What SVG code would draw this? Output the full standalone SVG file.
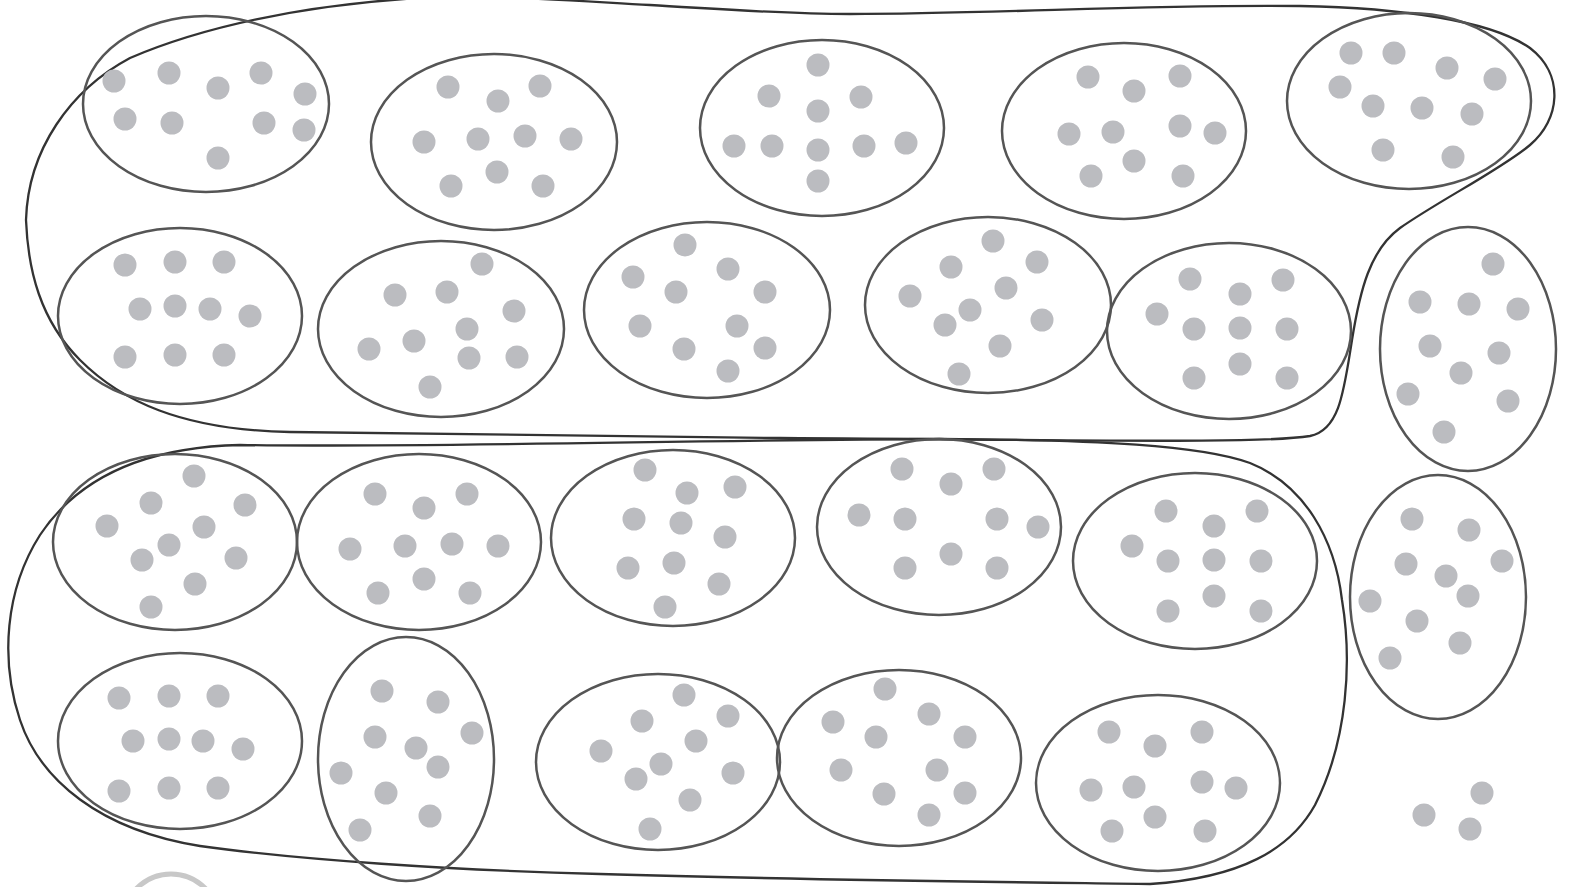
<svg xmlns="http://www.w3.org/2000/svg" width="1571" height="887" viewBox="0 0 1571 887">
<style>
.e{fill:none;stroke:#555;stroke-width:2.5}
.b{fill:none;stroke:#333;stroke-width:2.3}
.d{fill:#bbbcc0}
</style>
<defs><circle id="dt" r="11.5" class="d"/></defs>
<rect width="1571" height="887" fill="#fff"/>
<g id="connectors">
<path class="b" d="M26,220 C28,150 70,90 130,58 C200,28 300,5 420,-2 C500,-5 560,0 650,5 C720,9 780,14 850,14 C1000,14 1150,4 1300,6 C1400,8 1490,20 1530,48 C1565,75 1560,120 1530,145 C1500,170 1440,200 1400,228 C1370,250 1360,290 1352,340 C1344,390 1340,430 1310,436 C1260,444 1100,440 780,438 C500,436 350,434 290,432 C180,430 120,400 80,360 C40,320 28,270 26,220 Z"/>
<path class="b" d="M240,445 C400,448 700,440 940,439 C1100,440 1200,445 1250,463 C1305,485 1335,540 1342,600 C1352,660 1348,740 1315,805 C1290,850 1240,878 1150,884 C1000,882 800,880 600,874 C450,870 300,860 200,846 C100,830 40,780 20,720 C0,660 5,590 40,535 C80,475 150,447 240,445 Z"/>
</g>
<g id="n1"><ellipse class="e" cx="206" cy="104" rx="123" ry="88"/>
<use href="#dt" x="114" y="81"/><use href="#dt" x="169" y="73"/><use href="#dt" x="218" y="88"/><use href="#dt" x="261" y="73"/><use href="#dt" x="305" y="94"/><use href="#dt" x="125" y="119"/><use href="#dt" x="172" y="123"/><use href="#dt" x="264" y="123"/><use href="#dt" x="304" y="130"/><use href="#dt" x="218" y="158"/></g>
<g id="n2"><ellipse class="e" cx="494" cy="142" rx="123" ry="88"/>
<use href="#dt" x="448" y="87"/><use href="#dt" x="498" y="101"/><use href="#dt" x="540" y="86"/><use href="#dt" x="424" y="142"/><use href="#dt" x="478" y="139"/><use href="#dt" x="525" y="136"/><use href="#dt" x="571" y="139"/><use href="#dt" x="451" y="186"/><use href="#dt" x="497" y="172"/><use href="#dt" x="543" y="186"/></g>
<g id="n3"><ellipse class="e" cx="822" cy="128" rx="122" ry="88"/>
<use href="#dt" x="818" y="65"/><use href="#dt" x="769" y="96"/><use href="#dt" x="861" y="97"/><use href="#dt" x="818" y="111"/><use href="#dt" x="734" y="146"/><use href="#dt" x="772" y="146"/><use href="#dt" x="818" y="150"/><use href="#dt" x="864" y="146"/><use href="#dt" x="906" y="143"/><use href="#dt" x="818" y="181"/></g>
<g id="n4"><ellipse class="e" cx="1124" cy="131" rx="122" ry="88"/>
<use href="#dt" x="1088" y="77"/><use href="#dt" x="1134" y="91"/><use href="#dt" x="1180" y="76"/><use href="#dt" x="1069" y="134"/><use href="#dt" x="1113" y="132"/><use href="#dt" x="1180" y="126"/><use href="#dt" x="1215" y="133"/><use href="#dt" x="1091" y="176"/><use href="#dt" x="1134" y="161"/><use href="#dt" x="1183" y="176"/></g>
<g id="n5"><ellipse class="e" cx="1409" cy="101" rx="122" ry="88"/>
<use href="#dt" x="1351" y="53"/><use href="#dt" x="1394" y="53"/><use href="#dt" x="1447" y="68"/><use href="#dt" x="1495" y="79"/><use href="#dt" x="1340" y="87"/><use href="#dt" x="1373" y="106"/><use href="#dt" x="1422" y="108"/><use href="#dt" x="1472" y="114"/><use href="#dt" x="1383" y="150"/><use href="#dt" x="1453" y="157"/></g>
<g id="n6"><ellipse class="e" cx="180" cy="316" rx="122" ry="88"/>
<use href="#dt" x="125" y="265"/><use href="#dt" x="175" y="262"/><use href="#dt" x="224" y="262"/><use href="#dt" x="140" y="309"/><use href="#dt" x="175" y="306"/><use href="#dt" x="210" y="309"/><use href="#dt" x="250" y="316"/><use href="#dt" x="125" y="357"/><use href="#dt" x="175" y="355"/><use href="#dt" x="224" y="355"/></g>
<g id="n7"><ellipse class="e" cx="441" cy="329" rx="123" ry="88"/>
<use href="#dt" x="482" y="264"/><use href="#dt" x="395" y="295"/><use href="#dt" x="447" y="292"/><use href="#dt" x="514" y="311"/><use href="#dt" x="467" y="329"/><use href="#dt" x="414" y="341"/><use href="#dt" x="369" y="349"/><use href="#dt" x="469" y="358"/><use href="#dt" x="517" y="357"/><use href="#dt" x="430" y="387"/></g>
<g id="n8"><ellipse class="e" cx="707" cy="310" rx="123" ry="88"/>
<use href="#dt" x="685" y="245"/><use href="#dt" x="633" y="277"/><use href="#dt" x="728" y="269"/><use href="#dt" x="676" y="292"/><use href="#dt" x="765" y="292"/><use href="#dt" x="640" y="326"/><use href="#dt" x="737" y="326"/><use href="#dt" x="684" y="349"/><use href="#dt" x="765" y="348"/><use href="#dt" x="728" y="371"/></g>
<g id="n9"><ellipse class="e" cx="988" cy="305" rx="123" ry="88"/>
<use href="#dt" x="993" y="241"/><use href="#dt" x="951" y="267"/><use href="#dt" x="1037" y="262"/><use href="#dt" x="910" y="296"/><use href="#dt" x="1006" y="288"/><use href="#dt" x="970" y="310"/><use href="#dt" x="945" y="325"/><use href="#dt" x="1042" y="320"/><use href="#dt" x="1000" y="346"/><use href="#dt" x="959" y="374"/></g>
<g id="n10"><ellipse class="e" cx="1229" cy="331" rx="122" ry="88"/>
<use href="#dt" x="1190" y="279"/><use href="#dt" x="1283" y="280"/><use href="#dt" x="1240" y="294"/><use href="#dt" x="1157" y="314"/><use href="#dt" x="1194" y="329"/><use href="#dt" x="1240" y="328"/><use href="#dt" x="1287" y="329"/><use href="#dt" x="1194" y="378"/><use href="#dt" x="1240" y="364"/><use href="#dt" x="1287" y="378"/></g>
<g id="n11"><ellipse class="e" cx="1468" cy="349" rx="88" ry="122"/>
<use href="#dt" x="1493" y="264"/><use href="#dt" x="1420" y="302"/><use href="#dt" x="1469" y="304"/><use href="#dt" x="1518" y="309"/><use href="#dt" x="1430" y="346"/><use href="#dt" x="1499" y="353"/><use href="#dt" x="1461" y="373"/><use href="#dt" x="1408" y="394"/><use href="#dt" x="1508" y="401"/><use href="#dt" x="1444" y="432"/></g>
<g id="n12"><ellipse class="e" cx="175" cy="542" rx="122" ry="88"/>
<use href="#dt" x="194" y="476"/><use href="#dt" x="151" y="503"/><use href="#dt" x="245" y="505"/><use href="#dt" x="107" y="526"/><use href="#dt" x="204" y="527"/><use href="#dt" x="169" y="545"/><use href="#dt" x="142" y="560"/><use href="#dt" x="236" y="558"/><use href="#dt" x="195" y="584"/><use href="#dt" x="151" y="607"/></g>
<g id="n13"><ellipse class="e" cx="419" cy="542" rx="122" ry="88"/>
<use href="#dt" x="375" y="494"/><use href="#dt" x="424" y="508"/><use href="#dt" x="467" y="494"/><use href="#dt" x="350" y="549"/><use href="#dt" x="405" y="546"/><use href="#dt" x="452" y="544"/><use href="#dt" x="498" y="546"/><use href="#dt" x="378" y="593"/><use href="#dt" x="424" y="579"/><use href="#dt" x="470" y="593"/></g>
<g id="n14"><ellipse class="e" cx="673" cy="538" rx="122" ry="88"/>
<use href="#dt" x="645" y="470"/><use href="#dt" x="687" y="493"/><use href="#dt" x="735" y="487"/><use href="#dt" x="634" y="519"/><use href="#dt" x="681" y="523"/><use href="#dt" x="725" y="537"/><use href="#dt" x="628" y="568"/><use href="#dt" x="674" y="563"/><use href="#dt" x="719" y="584"/><use href="#dt" x="665" y="607"/></g>
<g id="n15"><ellipse class="e" cx="939" cy="527" rx="122" ry="88"/>
<use href="#dt" x="902" y="469"/><use href="#dt" x="951" y="484"/><use href="#dt" x="994" y="469"/><use href="#dt" x="859" y="515"/><use href="#dt" x="905" y="519"/><use href="#dt" x="997" y="519"/><use href="#dt" x="1038" y="527"/><use href="#dt" x="905" y="568"/><use href="#dt" x="951" y="554"/><use href="#dt" x="997" y="568"/></g>
<g id="n16"><ellipse class="e" cx="1195" cy="561" rx="122" ry="88"/>
<use href="#dt" x="1166" y="511"/><use href="#dt" x="1214" y="526"/><use href="#dt" x="1257" y="511"/><use href="#dt" x="1132" y="546"/><use href="#dt" x="1168" y="561"/><use href="#dt" x="1214" y="560"/><use href="#dt" x="1261" y="561"/><use href="#dt" x="1168" y="611"/><use href="#dt" x="1214" y="596"/><use href="#dt" x="1261" y="611"/></g>
<g id="n17"><ellipse class="e" cx="1438" cy="597" rx="88" ry="122"/>
<use href="#dt" x="1412" y="519"/><use href="#dt" x="1469" y="530"/><use href="#dt" x="1406" y="564"/><use href="#dt" x="1446" y="576"/><use href="#dt" x="1502" y="561"/><use href="#dt" x="1468" y="596"/><use href="#dt" x="1370" y="601"/><use href="#dt" x="1417" y="621"/><use href="#dt" x="1460" y="643"/><use href="#dt" x="1390" y="658"/></g>
<g id="n18"><ellipse class="e" cx="180" cy="741" rx="122" ry="88"/>
<use href="#dt" x="119" y="698"/><use href="#dt" x="169" y="696"/><use href="#dt" x="218" y="696"/><use href="#dt" x="133" y="741"/><use href="#dt" x="169" y="739"/><use href="#dt" x="203" y="741"/><use href="#dt" x="243" y="749"/><use href="#dt" x="119" y="791"/><use href="#dt" x="169" y="788"/><use href="#dt" x="218" y="788"/></g>
<g id="n19"><ellipse class="e" cx="406" cy="759" rx="88" ry="122"/>
<use href="#dt" x="382" y="691"/><use href="#dt" x="438" y="702"/><use href="#dt" x="375" y="737"/><use href="#dt" x="416" y="748"/><use href="#dt" x="472" y="733"/><use href="#dt" x="438" y="767"/><use href="#dt" x="341" y="773"/><use href="#dt" x="386" y="793"/><use href="#dt" x="430" y="816"/><use href="#dt" x="360" y="830"/></g>
<g id="n20"><ellipse class="e" cx="658" cy="762" rx="122" ry="88"/>
<use href="#dt" x="684" y="695"/><use href="#dt" x="642" y="721"/><use href="#dt" x="728" y="716"/><use href="#dt" x="601" y="751"/><use href="#dt" x="696" y="741"/><use href="#dt" x="661" y="764"/><use href="#dt" x="636" y="779"/><use href="#dt" x="733" y="773"/><use href="#dt" x="690" y="800"/><use href="#dt" x="650" y="829"/></g>
<g id="n21"><ellipse class="e" cx="899" cy="758" rx="122" ry="88"/>
<use href="#dt" x="885" y="689"/><use href="#dt" x="833" y="722"/><use href="#dt" x="929" y="714"/><use href="#dt" x="876" y="737"/><use href="#dt" x="965" y="737"/><use href="#dt" x="841" y="770"/><use href="#dt" x="937" y="770"/><use href="#dt" x="884" y="794"/><use href="#dt" x="965" y="793"/><use href="#dt" x="929" y="815"/></g>
<g id="n22"><ellipse class="e" cx="1158" cy="783" rx="122" ry="88"/>
<use href="#dt" x="1109" y="732"/><use href="#dt" x="1155" y="746"/><use href="#dt" x="1202" y="732"/><use href="#dt" x="1091" y="790"/><use href="#dt" x="1134" y="787"/><use href="#dt" x="1202" y="782"/><use href="#dt" x="1236" y="788"/><use href="#dt" x="1112" y="831"/><use href="#dt" x="1155" y="817"/><use href="#dt" x="1205" y="831"/></g>
<g id="loose"><use href="#dt" x="1482" y="793"/><use href="#dt" x="1424" y="815"/><use href="#dt" x="1470" y="829"/></g>
<g id="partial"><circle cx="171" cy="922" r="48" fill="none" stroke="#c8c8c8" stroke-width="5"/></g>
</svg>
